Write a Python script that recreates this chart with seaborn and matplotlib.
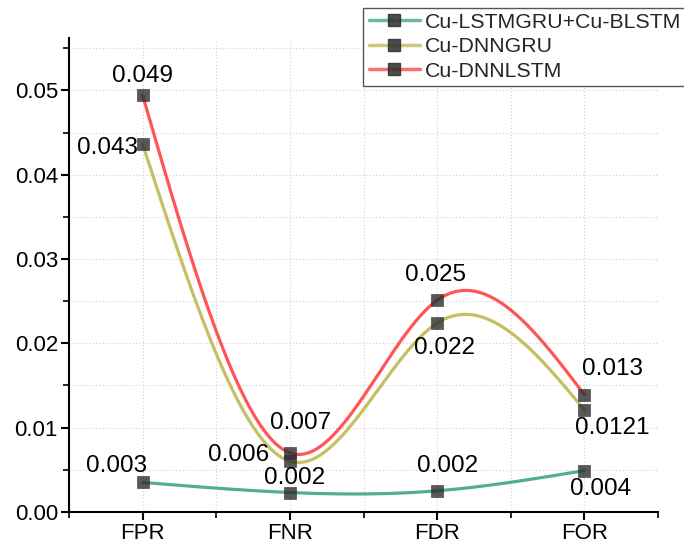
import numpy as np
import pandas as pd
import seaborn as sns
import matplotlib.pyplot as plt
from matplotlib.lines import Line2D
from matplotlib.ticker import MultipleLocator

# data
metrics = ["FPR", "FNR", "FDR", "FOR"]
models = ["Cu-LSTMGRU+Cu-BLSTM", "Cu-DNNGRU", "Cu-DNNLSTM"]
lstmgru_blstm = [0.0035, 0.0023, 0.0025, 0.0049]
dnngru = [0.0436, 0.0060, 0.0224, 0.0121]
dnnlstm = [0.0494, 0.0070, 0.0251, 0.0139]
colors = ["#4fb08a", "#c5bf63", "#ff5555"]

# value labels: (text, x, y)
labels = [
    ("0.049", 0.0, 0.0517), ("0.043", -0.24, 0.0432), ("0.003", -0.18, 0.0055),
    ("0.007", 1.07, 0.0106), ("0.006", 0.65, 0.0068), ("0.002", 1.03, 0.0040),
    ("0.025", 1.99, 0.0281), ("0.022", 2.05, 0.0194), ("0.002", 2.07, 0.0055),
    ("0.013", 3.19, 0.0169), ("0.0121", 3.19, 0.0099), ("0.004", 3.11, 0.0027),
]


def natural_spline(x, y, xs):
    x = np.asarray(x, float)
    y = np.asarray(y, float)
    n = len(x)
    h = np.diff(x)
    A = np.zeros((n, n))
    b = np.zeros(n)
    A[0, 0] = A[-1, -1] = 1
    for i in range(1, n - 1):
        A[i, i - 1] = h[i - 1]
        A[i, i] = 2 * (h[i - 1] + h[i])
        A[i, i + 1] = h[i]
        b[i] = 6 * ((y[i + 1] - y[i]) / h[i] - (y[i] - y[i - 1]) / h[i - 1])
    M = np.linalg.solve(A, b)
    idx = np.clip(np.searchsorted(x, xs) - 1, 0, n - 2)
    x0, x1 = x[idx], x[idx + 1]
    hh = x1 - x0
    t0, t1 = x1 - xs, xs - x0
    return (M[idx] * t0**3 + M[idx + 1] * t1**3) / (6 * hh) \
        + (y[idx] / hh - M[idx] * hh / 6) * t0 + (y[idx + 1] / hh - M[idx + 1] * hh / 6) * t1


xpos = np.arange(len(metrics))
xs = np.linspace(0, 3, 300)
series = [lstmgru_blstm, dnngru, dnnlstm]

curves = pd.concat([
    pd.DataFrame({"x": xs, "y": natural_spline(xpos, vals, xs), "model": m})
    for m, vals in zip(models, series)
])
points = pd.concat([
    pd.DataFrame({"x": xpos, "y": vals, "model": m})
    for m, vals in zip(models, series)
])

sns.set_style("ticks")
plt.rcParams["font.family"] = ["Liberation Sans", "DejaVu Sans"]

fig = plt.figure(figsize=(6.84, 5.44), dpi=100)
ax = fig.add_axes([0.101, 0.059, 0.861, 0.871])

sns.lineplot(data=curves, x="x", y="y", hue="model", palette=colors,
             hue_order=models, linewidth=2.3, legend=False, ax=ax, sort=False)
sns.scatterplot(data=points, x="x", y="y", marker="s", s=75, color="#2e2e2e",
                alpha=0.8, edgecolor="#2e2e2e", linewidth=0.5, legend=False,
                ax=ax, zorder=5)

for txt, x, y in labels:
    ax.text(x, y, txt, ha="center", va="center", fontsize=17.5, color="black", zorder=6)

ax.set_xlim(-0.5, 3.5)
ax.set_ylim(0, 0.0562)
ax.set_xticks(xpos)
ax.set_xticklabels(metrics)
ax.xaxis.set_minor_locator(MultipleLocator(0.5))
ax.yaxis.set_major_locator(MultipleLocator(0.01))
ax.yaxis.set_minor_locator(MultipleLocator(0.005))
ax.yaxis.set_major_formatter(plt.FuncFormatter(lambda v, p: f"{v:.2f}"))
ax.set_xlabel("")
ax.set_ylabel("")
ax.grid(True, which="both", color="#d0d0d0", linestyle=(0, (1, 2)), linewidth=0.8)
ax.set_axisbelow(True)
for s in ["top", "right"]:
    ax.spines[s].set_visible(False)
for s in ["left", "bottom"]:
    ax.spines[s].set_linewidth(1.5)
    ax.spines[s].set_color("black")
ax.tick_params(which="major", direction="out", length=6, width=1.5, labelsize=16, colors="black")
ax.tick_params(which="minor", direction="out", length=4, width=1.2, colors="black")
ax.tick_params(axis="y", pad=2)
ax.tick_params(axis="x", pad=2)

handles = [Line2D([0], [0], color=c, linewidth=2.5, marker="s", markersize=8,
                  markerfacecolor="#2e2e2e", markeredgecolor="#2e2e2e", alpha=0.85)
           for c in colors]
fig.legend(handles, models, loc="upper left", bbox_to_anchor=(0.531, 0.986),
           fontsize=15.3, frameon=True, fancybox=False, edgecolor="#555555",
           framealpha=1, handlelength=2.4, handletextpad=0.25, borderpad=0.25,
           borderaxespad=0, labelspacing=0.25)

fig.savefig("out.png", dpi=100)
